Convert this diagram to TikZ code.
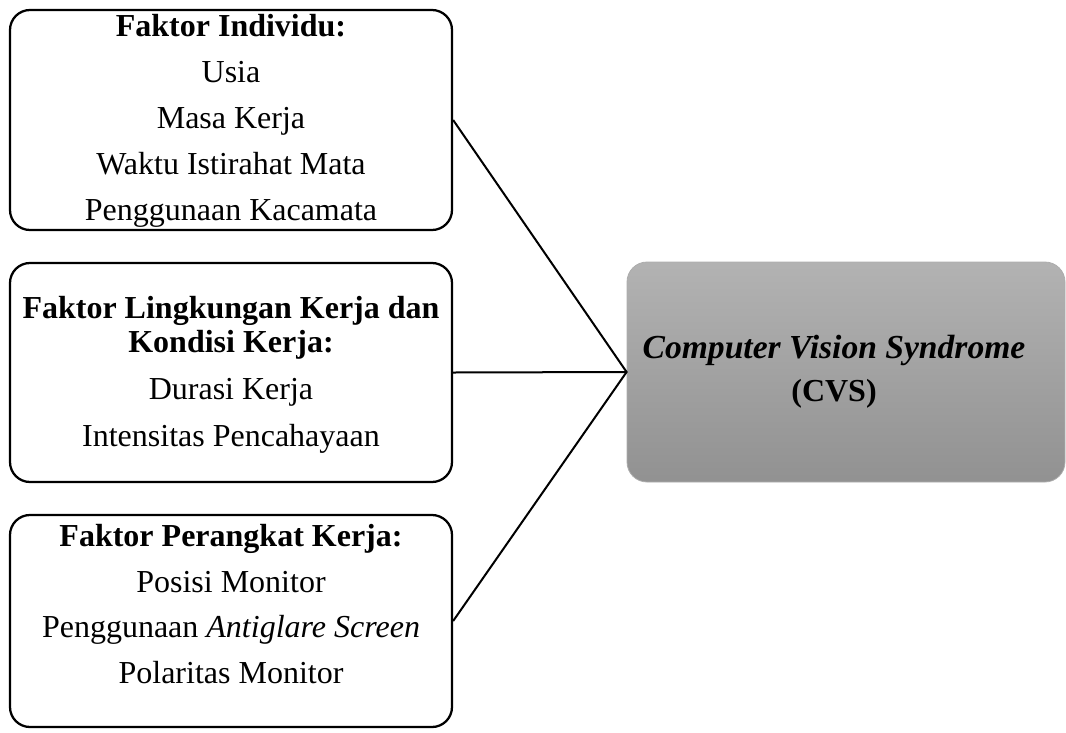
\documentclass[tikz,border=0pt]{standalone}
\usepackage{fontspec}
\setmainfont{Liberation Serif}
\begin{document}
\begin{tikzpicture}[x=0.75pt,y=-0.75pt,
  factor/.style={draw=black,line width=1.7pt,rounded corners=15pt,inner sep=0pt,minimum width=331.5pt},
  cvsbox/.style={draw=black!32,line width=0.6pt,rounded corners=15pt,inner sep=0pt,
    top color=black!30,bottom color=black!43,minimum width=328.5pt,minimum height=165pt},
  txt/.style={anchor=base,inner sep=0pt,font=\fontsize{24pt}{28pt}\selectfont},
  link/.style={line width=1.5pt}]
\useasboundingbox (0,0) rectangle (1066,732);
\node[factor,minimum height=165pt] (b1) at (231,120) {};
\node[factor,minimum height=164.25pt] (b2) at (231,372.5) {};
\node[factor,minimum height=159pt] (b3) at (231,621) {};
\node[cvsbox] (cvs) at (846,372) {};
% box 1
\node[txt] (t11) at (231,36) {\textbf{Faktor Individu:}};
\node[txt] (t12) at (231,82) {Usia};
\node[txt] (t13) at (231,128) {Masa Kerja};
\node[txt] (t14) at (231,174) {Waktu Istirahat Mata};
\node[txt] (t15) at (231,220) {Penggunaan Kacamata};
% box 2
\node[txt] (t21) at (231,318) {\textbf{Faktor Lingkungan Kerja dan}};
\node[txt] (t22) at (231,352) {\textbf{Kondisi Kerja:}};
\node[txt] (t23) at (231,399) {Durasi Kerja};
\node[txt] (t24) at (231,446) {Intensitas Pencahayaan};
% box 3
\node[txt] (t31) at (231,546) {\textbf{Faktor Perangkat Kerja:}};
\node[txt] (t32) at (231,592) {Posisi Monitor};
\node[txt] (t33) at (231,637) {Penggunaan \textit{Antiglare Screen}};
\node[txt] (t34) at (231,683) {Polaritas Monitor};
% cvs
\node[txt,font=\fontsize{25.2pt}{30pt}\selectfont] (c1) at (834,358) {\textbf{\textit{Computer Vision Syndrome}}};
\node[txt] (c2) at (834,401) {\textbf{(CVS)}};
% connectors
\draw[link,line join=miter] (b1.east) -- (cvs.west) -- (b3.east);
\draw[link] (b2.east) -- (cvs.west);
\end{tikzpicture}
\end{document}
